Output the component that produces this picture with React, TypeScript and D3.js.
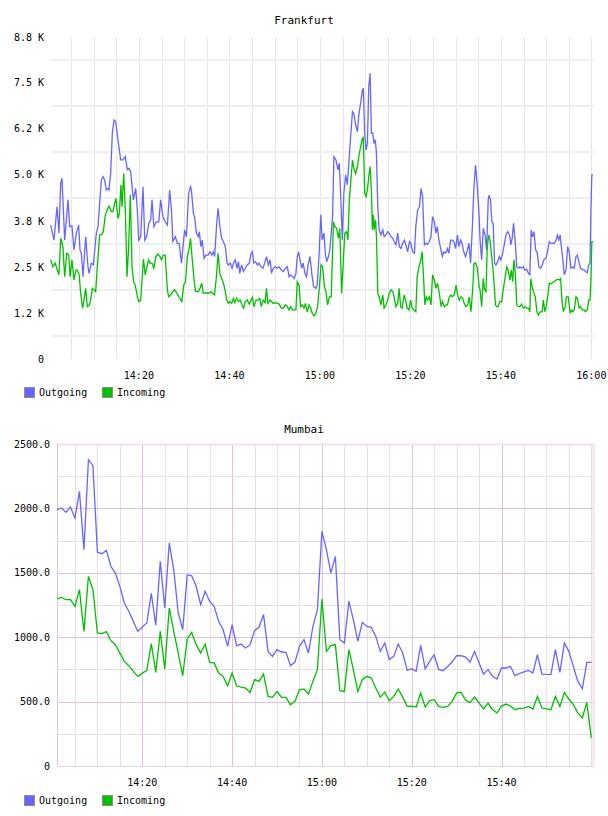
import React from 'react';
import * as d3 from 'd3';

const FONT = '"DejaVu Sans Mono", monospace';
const OUT_COLOR = '#6666ff';
const IN_COLOR = '#00c000';
const seriesNames = ['Outgoing', 'Incoming'];

// Frankfurt samples: [minutes after 14:00, bytes]
const frankfurtOut: [number, number][] = [
  [0.5,3660],[1.24,3250],[1.9,4160],[2.34,3440],[2.71,4800],[3.0,4940],[3.6,3250],[4.33,4350],[4.7,3620],[5.2,3640],
  [5.66,2980],[6.17,3440],[6.69,3660],[6.98,2980],[7.28,2890],[7.65,2250],[8.24,3340],[8.75,2520],[8.97,2340],[9.49,2620],
  [9.93,2570],[10.6,3440],[10.96,3620],[11.7,4890],[12.07,4980],[12.43,4890],[12.8,4620],[13.17,4660],[13.39,4620],[13.76,5070],
  [14.13,6170],[14.5,6530],[14.87,6490],[15.38,5990],[15.97,5440],[16.48,5440],[17.0,5530],[17.44,5170],[17.81,5210],[18.18,5120],
  [18.77,4350],[19.29,4660],[19.66,4070],[19.95,3250],[20.4,3340],[20.9,4710],[21.3,3250],[21.7,3340],[22.2,3710],[22.6,3800],
  [22.9,4350],[23.3,3620],[23.85,3750],[24.4,3750],[24.8,4350],[25.3,3890],[25.8,3750],[26.3,3660],[26.8,4620],[27.2,4070],
  [27.5,3210],[28.05,3340],[28.5,3160],[28.9,3160],[29.4,2620],[30.1,3530],[30.5,3340],[31.0,4530],[31.4,4710],[31.6,4620],
  [32.05,3980],[32.3,3890],[32.7,3440],[33.1,3340],[33.35,3480],[33.7,3070],[34.0,3250],[34.4,2750],[34.8,2840],[35.3,2840],
  [35.7,2930],[36.1,2840],[36.45,2930],[36.74,2800],[37.2,3710],[37.5,4120],[37.9,3620],[38.3,3300],[38.66,3210],[39.1,3070],
  [39.5,2620],[39.8,2570],[40.2,2620],[40.6,2480],[40.9,2620],[41.3,2710],[41.7,2480],[42.0,2660],[42.3,2340],[42.7,2570],
  [43.1,2390],[43.5,2480],[43.96,2570],[44.4,2620],[44.8,2890],[45.07,2930],[45.4,2620],[45.8,2660],[46.2,2570],[46.5,2620],
  [47.0,2520],[47.4,2480],[47.8,2620],[48.2,2800],[48.6,2570],[49.0,2710],[49.3,2340],[49.7,2480],[50.15,2520],[50.6,2480],
  [51.0,2520],[51.5,2430],[51.9,2390],[52.4,2480],[52.8,2520],[53.2,2250],[53.5,2300],[54.0,2250],[54.35,2200],[54.7,2340],
  [55.0,2800],[55.3,2930],[55.6,2710],[56.0,2480],[56.3,2620],[56.7,2340],[57.05,2250],[57.4,2570],[57.8,2800],[58.25,2300],
  [58.6,1980],[59.1,1930],[59.4,2020],[59.8,2800],[60.2,3940],[60.5,3250],[60.9,3440],[61.2,2890],[61.5,2660],[61.9,2800],
  [62.2,2980],[62.8,3890],[63.1,5530],[63.55,5440],[64.0,5170],[64.3,5350],[64.7,4160],[64.95,3250],[65.3,4530],[65.7,5030],
  [66.06,4760],[66.4,5350],[66.8,6080],[67.2,6760],[67.5,6710],[67.9,6400],[68.3,6210],[68.6,6670],[69.0,6990],[69.4,7350],
  [69.6,7400],[69.9,6170],[70.2,5710],[70.5,5890],[70.8,7440],[71.1,7810],[71.4,6170],[71.7,6170],[71.95,5890],[72.25,5990],
  [72.5,5620],[72.8,4160],[73.1,3530],[73.5,3390],[73.9,3530],[74.2,3340],[74.6,3390],[75.0,3480],[75.3,3440],[75.7,3340],
  [76.1,3300],[76.4,3210],[76.8,3120],[77.2,3440],[77.55,3070],[77.9,3020],[78.3,3160],[78.7,3250],[79.0,3120],[79.4,2930],
  [79.8,3210],[80.1,3160],[80.5,2930],[80.9,2890],[81.2,3620],[81.6,4070],[82.0,4160],[82.35,4660],[82.7,4440],[83.1,3120],
  [83.4,3160],[83.8,3140],[84.2,3210],[84.55,3340],[84.9,3890],[85.3,3750],[85.65,3440],[85.95,3620],[86.3,3250],[86.7,3020],
  [87.05,2800],[87.4,2930],[87.8,2890],[88.2,3020],[88.5,2890],[88.9,3250],[89.3,3250],[89.6,3210],[90.0,3020],[90.4,3390],
  [90.7,3070],[91.1,3250],[91.5,3120],[91.8,2930],[92.2,2800],[92.6,2980],[92.95,3160],[93.3,2620],[93.7,3620],[94.05,4710],
  [94.4,5300],[94.8,4710],[95.2,3890],[95.4,3250],[95.75,2710],[96.1,3570],[96.5,3390],[96.85,2980],[97.2,4350],[97.4,4480],
  [97.7,4350],[98.0,3750],[98.3,3710],[98.6,2620],[98.9,2570],[99.3,2660],[99.65,2800],[100.0,2710],[100.4,2890],[100.8,3160],
  [101.1,3390],[101.5,3480],[101.9,3390],[102.2,3120],[102.5,3300],[102.8,3710],[103.2,3160],[103.5,2520],[103.9,2480],[104.2,2520],
  [104.6,2480],[104.96,2520],[105.3,2430],[105.7,2450],[106.1,2340],[106.4,2300],[106.7,3530],[107.0,3340],[107.3,3480],[107.7,2980],
  [108.05,2890],[108.4,2520],[108.8,2480],[109.15,2570],[109.5,2710],[109.97,2750],[110.3,2930],[110.7,3210],[111.07,3160],[111.4,3160],
  [111.8,3160],[112.2,3250],[112.5,3390],[112.8,3250],[113.1,3390],[113.4,3020],[113.7,2710],[114.0,2300],[114.4,2430],[114.75,3070],
  [115.1,2930],[115.5,2480],[115.9,2520],[116.2,2480],[116.6,2800],[116.9,2840],[117.3,2620],[117.6,2480],[118.0,2450],[118.4,2430],
  [118.7,2390],[119.1,2360],[119.4,2570],[119.7,2620],[119.9,4070],[120.1,5030],[120.35,5030],
];

const frankfurtIn: [number, number][] = [
  [0.5,2710],[1.0,2520],[1.5,2620],[1.97,2430],[2.34,2300],[2.71,3300],[3.2,3070],[3.6,2250],[4.04,2890],[4.5,2840],
  [4.8,2250],[5.2,2710],[5.66,2160],[6.1,2430],[6.4,2430],[6.8,2300],[7.13,1800],[7.57,1390],[7.87,1610],[8.24,1930],
  [8.6,1430],[9.05,1480],[9.34,1610],[9.71,1930],[10.08,1890],[10.45,1840],[10.8,2520],[11.33,3390],[11.7,3390],[12.14,3480],
  [12.58,3940],[13.0,4070],[13.39,4180],[13.9,4030],[14.27,4030],[14.64,4250],[14.94,4390],[15.38,3840],[15.68,3980],[16.04,4760],
  [16.27,4160],[16.64,5070],[17.0,4070],[17.37,2250],[17.74,3070],[18.1,4480],[18.48,2520],[18.84,2110],[19.2,2020],[19.66,1700],
  [20.0,1570],[20.4,1610],[20.7,2160],[21.0,2730],[21.4,2300],[21.7,2480],[22.16,2710],[22.46,2620],[22.9,2620],[23.3,2480],
  [23.77,2800],[24.2,2870],[24.66,2800],[25.0,2710],[25.4,2840],[25.8,2840],[26.3,1890],[26.58,1700],[27.0,1750],[27.5,1840],
  [27.9,1890],[28.4,1800],[28.8,1700],[29.2,1630],[29.5,1570],[29.9,2020],[30.3,2110],[30.7,2800],[31.1,3020],[31.4,3300],
  [31.8,2710],[32.2,2160],[32.5,1840],[33.1,1840],[33.5,1930],[33.9,2070],[34.2,1800],[34.7,1800],[35.1,1810],[35.6,1800],
  [35.9,1840],[36.3,1800],[36.7,1750],[37.1,2200],[37.5,2890],[37.9,2340],[38.3,2200],[38.7,2070],[39.1,1840],[39.4,1610],
  [39.8,1520],[40.1,1570],[40.5,1520],[40.9,1660],[41.2,1540],[41.6,1660],[42.0,1570],[42.4,1610],[42.8,1480],[43.15,1390],
  [43.5,1570],[43.96,1610],[44.4,1500],[44.8,1610],[45.1,1690],[45.4,1430],[45.9,1610],[46.3,1610],[46.7,1660],[47.05,1430],
  [47.5,1610],[47.9,1540],[48.2,1930],[48.5,1520],[49.0,1610],[49.3,1570],[49.7,1520],[50.15,1540],[50.6,1520],[51.0,1500],
  [51.5,1390],[51.9,1390],[52.4,1480],[52.8,1430],[53.2,1340],[53.5,1430],[54.0,1340],[54.4,1340],[54.7,1340],[55.0,2110],
  [55.4,2020],[55.75,1430],[56.1,1480],[56.5,1390],[56.8,1520],[57.2,1290],[57.6,1480],[58.0,1390],[58.3,1250],[58.7,1180],
  [59.1,1250],[59.5,1430],[59.9,1980],[60.25,2570],[60.6,2520],[61.0,1980],[61.35,1840],[61.7,1480],[62.1,1700],[62.5,1700],
  [63.0,3750],[63.3,3620],[63.7,3570],[64.1,3300],[64.4,3570],[64.8,1790],[65.2,2710],[65.5,3440],[65.9,3480],[66.2,3250],
  [66.5,4350],[66.8,4800],[67.2,5440],[67.5,5210],[67.9,5070],[68.3,5260],[68.6,5530],[69.0,5800],[69.4,6030],[69.6,6050],
  [69.9,4530],[70.2,4440],[70.5,4620],[70.8,4980],[71.1,5260],[71.4,4530],[71.6,3530],[71.8,3940],[72.0,3530],[72.3,3800],
  [72.5,3340],[72.8,1790],[73.1,1700],[73.5,1480],[73.9,1750],[74.2,1390],[74.6,1480],[75.0,1610],[75.3,1790],[75.7,1890],
  [76.1,1840],[76.4,1700],[76.8,1430],[77.2,1520],[77.5,1930],[77.85,1430],[78.2,1390],[78.6,1750],[78.95,1610],[79.3,1390],
  [79.7,1340],[80.05,1610],[80.4,1390],[80.8,1340],[81.2,1290],[81.5,2250],[81.9,2520],[82.3,2710],[82.6,2930],[82.9,2250],
  [83.2,1480],[83.5,1700],[83.8,1610],[84.2,1700],[84.55,1480],[84.9,2300],[85.3,2160],[85.65,1930],[86.0,2070],[86.4,1790],
  [86.8,1430],[87.1,1570],[87.5,1430],[87.9,1480],[88.2,1480],[88.6,1700],[88.97,1750],[89.3,1700],[89.7,1750],[90.1,2020],
  [90.45,1750],[90.8,1610],[91.2,1700],[91.55,1660],[91.9,1520],[92.3,1430],[92.65,1480],[93.0,1690],[93.4,1290],[93.8,1980],
  [94.05,2600],[94.4,2630],[94.8,2480],[95.2,1980],[95.4,1890],[95.75,1430],[96.1,2200],[96.4,1890],[96.7,1840],[97.0,3070],
  [97.3,3390],[97.6,3250],[97.9,2890],[98.2,2520],[98.5,2070],[98.8,1480],[99.06,1430],[99.4,1430],[99.8,1570],[100.2,1570],
  [100.5,1890],[100.9,2200],[101.3,2520],[101.6,2430],[102.0,2160],[102.3,2430],[102.6,2110],[102.9,2710],[103.2,2340],[103.5,1480],
  [103.9,1430],[104.2,1430],[104.6,1500],[104.96,1390],[105.3,1430],[105.7,1390],[106.1,1390],[106.4,1290],[106.6,2200],[106.9,1980],
  [107.2,1840],[107.6,1700],[107.97,1290],[108.3,1200],[108.7,1290],[109.1,1290],[109.4,1610],[109.7,1290],[110.0,1430],[110.3,1660],
  [110.7,2070],[111.07,2050],[111.4,2090],[111.8,2110],[112.2,2160],[112.5,2180],[112.9,2160],[113.2,2200],[113.5,1610],[113.8,1290],
  [114.2,1430],[114.5,1700],[114.9,1700],[115.3,1250],[115.6,1340],[115.9,1290],[116.2,1340],[116.6,1700],[116.9,1660],[117.3,1390],
  [117.6,1430],[118.0,1340],[118.4,1340],[118.7,1290],[119.1,1340],[119.4,1610],[119.7,1610],[119.9,2160],[120.1,3210],[120.35,3210],
];

const frankfurtYTicks = [0, 1257, 2514, 3771, 5029, 6286, 7543, 8800];
const frankfurtYLabels = ['0', '1.2 K', '2.5 K', '3.8 K', '5.0 K', '6.2 K', '7.5 K', '8.8 K'];
const frankfurtGridY = [629, 1886, 3143, 4400, 5657, 6914, 8171];
const frankfurtXLabels = [20, 40, 60, 80, 100, 120];

// Mumbai: one sample per minute, 14:01 .. 16:00
const mumbaiMinutes = d3.range(1, 121);
const mumbaiOut = [
  1990, 2003, 1969, 2011, 1926, 2132, 1679, 2378, 2332, 1659,
  1648, 1674, 1550, 1498, 1395, 1266, 1200, 1123, 1045, 1079,
  1110, 1340, 1094, 1589, 1227, 1731, 1524, 1188, 1058, 1485,
  1477, 1395, 1252, 1356, 1278, 1239, 1123, 1058, 929, 1097,
  934, 947, 916, 942, 1051, 1079, 1175, 890, 851, 903,
  885, 882, 779, 807, 929, 981, 877, 1084, 1214, 1822,
  1679, 1498, 1627, 981, 955, 1280, 1136, 967, 1115, 1084,
  1076, 1006, 890, 955, 825, 851, 947, 877, 742, 755,
  735, 937, 755, 812, 864, 750, 740, 773, 807, 856,
  856, 846, 807, 890, 800, 714, 748, 696, 675, 761,
  761, 773, 701, 717, 730, 742, 722, 864, 714, 711,
  709, 903, 727, 955, 890, 773, 657, 600, 804, 804,
];
const mumbaiIn = [
  1297, 1309, 1291, 1291, 1239, 1369, 1045, 1472, 1369, 1033,
  1028, 1043, 973, 942, 877, 812, 779, 735, 696, 721,
  740, 950, 727, 1045, 753, 1227, 1045, 877, 701, 986,
  1037, 942, 877, 947, 804, 800, 722, 696, 623, 722,
  623, 613, 605, 571, 670, 657, 714, 540, 533, 579,
  533, 533, 476, 502, 592, 598, 559, 657, 748, 1297,
  890, 934, 942, 585, 579, 903, 748, 579, 670, 696,
  683, 605, 535, 574, 507, 540, 598, 535, 463, 465,
  458, 567, 458, 507, 515, 463, 456, 463, 502, 567,
  571, 510, 494, 535, 489, 443, 489, 437, 412, 465,
  481, 465, 437, 448, 450, 463, 443, 540, 450, 443,
  437, 540, 463, 571, 520, 476, 412, 373, 494, 217,
];
const mumbaiYTicks = [0, 500, 1000, 1500, 2000, 2500];
const mumbaiYLabels = ['0', '500.0', '1000.0', '1500.0', '2000.0', '2500.0'];
const mumbaiMinorY = [250, 750, 1250, 1750, 2250];
const mumbaiXLabels = [20, 40, 60, 80, 100];

const gridMinutes = [5, 10, 15, 20, 25, 30, 35, 40, 45, 50, 55, 60, 65, 70, 75, 80, 85, 90, 95, 100, 105, 110, 115, 120];

function timeLabel(m: number) {
  const h = 14 + Math.floor(m / 60);
  return h + ':' + String(m % 60).padStart(2, '0');
}

const crisp = (v: number) => Math.round(v) + 0.5;

function Legend({ y }: { y: number }) {
  const colors = [OUT_COLOR, IN_COLOR];
  const xs = [24, 102];
  return (
    <g>
      {seriesNames.map((name, i) => (
        <g key={name}>
          <rect x={xs[i] + 0.5} y={y - 4.5} width={10} height={10} fill={colors[i]} stroke="#8c8c8c" />
          <text x={xs[i] + 15} y={y} dominantBaseline="central" fontSize={10} fontFamily={FONT} fill="#000">
            {name}
          </text>
        </g>
      ))}
    </g>
  );
}

function Frankfurt() {
  const left = 51, right = 594, top = 37, bottom = 359;
  const x = d3.scaleLinear().domain([0.575, 120.58]).range([left, right]);
  const y = d3.scaleLinear().domain([0, 8800]).range([bottom, top]);
  const line = d3.line<[number, number]>().x(d => x(d[0])).y(d => y(d[1]));
  return (
    <g>
      <text x={304} y={20} textAnchor="middle" dominantBaseline="central" fontSize={11} fontFamily={FONT}>Frankfurt</text>
      {gridMinutes.map(m => (
        <line key={'v' + m} x1={crisp(x(m))} x2={crisp(x(m))} y1={top} y2={bottom} stroke="#e6e6e6" />
      ))}
      {frankfurtGridY.map(v => (
        <line key={'h' + v} x1={left} x2={right} y1={Math.round(y(v))} y2={Math.round(y(v))} stroke="#efefef" strokeWidth={2} />
      ))}
      <path d={line(frankfurtOut) || ''} fill="none" stroke={OUT_COLOR} strokeWidth={1.3} />
      <path d={line(frankfurtIn) || ''} fill="none" stroke={IN_COLOR} strokeWidth={1.3} />
      {frankfurtYTicks.map((v, i) => (
        <text key={'yl' + v} x={44} y={y(v)} textAnchor="end" dominantBaseline="central" fontSize={10} fontFamily={FONT}>
          {frankfurtYLabels[i]}
        </text>
      ))}
      {frankfurtXLabels.map(m => (
        <text key={'xl' + m} x={x(m)} y={375} textAnchor="middle" dominantBaseline="central" fontSize={10} fontFamily={FONT}>
          {timeLabel(m)}
        </text>
      ))}
      <Legend y={392} />
    </g>
  );
}

function Mumbai() {
  const left = 57, right = 594, top = 444, bottom = 766;
  const x = d3.scaleLinear().domain([1, 120.6]).range([left, right]);
  const y = d3.scaleLinear().domain([0, 2500]).range([bottom, top]);
  const lineOut = d3.line<number>().x((_, i) => x(mumbaiMinutes[i])).y(d => y(d));
  const major = '#dcc2dc';
  const minor = '#e6e0e6';
  return (
    <g>
      <text x={304} y={429} textAnchor="middle" dominantBaseline="central" fontSize={11} fontFamily={FONT}>Mumbai</text>
      {gridMinutes.map(m => (
        <line key={'v' + m} x1={crisp(x(m))} x2={crisp(x(m))} y1={top} y2={bottom}
          stroke={m % 20 === 0 && m < 120 ? major : minor} />
      ))}
      {mumbaiMinorY.map(v => (
        <line key={'hm' + v} x1={left} x2={right} y1={crisp(y(v))} y2={crisp(y(v))} stroke={minor} />
      ))}
      {mumbaiYTicks.slice(1, -1).map(v => (
        <line key={'hM' + v} x1={left} x2={right} y1={crisp(y(v))} y2={crisp(y(v))} stroke={major} />
      ))}
      <line x1={left} x2={right} y1={top + 0.5} y2={top + 0.5} stroke="#f0e2f0" strokeWidth={2} />
      <line x1={right - 0.5} x2={right - 0.5} y1={top} y2={bottom} stroke="#f0e2f0" strokeWidth={2} />
      <line x1={left + 0.5} x2={left + 0.5} y1={top} y2={bottom} stroke={major} />
      <line x1={left} x2={right} y1={bottom + 0.5} y2={bottom + 0.5} stroke="#ead8ea" />
      <path d={lineOut(mumbaiOut) || ''} fill="none" stroke={OUT_COLOR} strokeWidth={1.3} />
      <path d={lineOut(mumbaiIn) || ''} fill="none" stroke={IN_COLOR} strokeWidth={1.3} />
      {mumbaiYTicks.map((v, i) => (
        <text key={'yl' + v} x={50} y={y(v)} textAnchor="end" dominantBaseline="central" fontSize={10} fontFamily={FONT}>
          {mumbaiYLabels[i]}
        </text>
      ))}
      {mumbaiXLabels.map(m => (
        <text key={'xl' + m} x={x(m)} y={782} textAnchor="middle" dominantBaseline="central" fontSize={10} fontFamily={FONT}>
          {timeLabel(m)}
        </text>
      ))}
      <Legend y={800} />
    </g>
  );
}

export default function App() {
  return (
    <svg width={608} height={816} style={{ position: 'absolute', left: 0, top: 0, background: '#fff' }}>
      <rect width={608} height={816} fill="#fff" />
      <Frankfurt />
      <Mumbai />
    </svg>
  );
}
